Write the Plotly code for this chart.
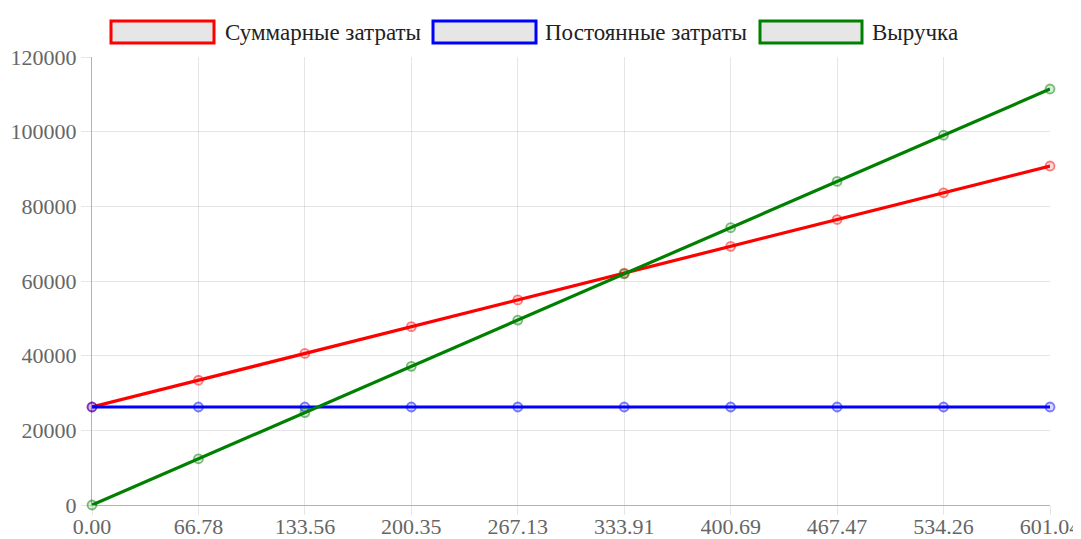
import plotly.graph_objects as go

categories = ["0.00", "66.78", "133.56", "200.35", "267.13", "333.91", "400.69", "467.47", "534.26", "601.04"]
total_costs = [26250, 33420, 40590, 47770, 54940, 62110, 69280, 76460, 83630, 90800]
fixed_costs = [26250, 26250, 26250, 26250, 26250, 26250, 26250, 26250, 26250, 26250]
revenue = [0, 12380, 24760, 37150, 49530, 61910, 74290, 86670, 99050, 111430]

series = [
    ("Суммарные затраты", total_costs, (255, 0, 0)),
    ("Постоянные затраты", fixed_costs, (0, 0, 255)),
    ("Выручка", revenue, (0, 128, 0)),
]

FONT = "Liberation Serif, Times New Roman, serif"
OFF = 8  # page body margin
W, H = 1081 - OFF, 539 - OFF
ML, MR, MT, MB = 92 - OFF, 31, 57 - OFF, 34

fig = go.Figure()
for name, vals, (r, g, b) in series:
    fig.add_trace(go.Scatter(
        x=categories, y=vals, name=name, mode="lines+markers",
        line=dict(color=f"rgb({r},{g},{b})", width=3.2),
        marker=dict(symbol="circle", size=9, color=f"rgba({r},{g},{b},0.15)",
                    line=dict(color=f"rgba({r},{g},{b},0.5)", width=1.8)),
        showlegend=False, cliponaxis=False,
    ))

# custom legend (Chart.js style wide boxes), positions in screen pixels
legend_items = [
    (111, 214, 226, "Суммарные затраты", "rgb(255,0,0)"),
    (433, 536, 546, "Постоянные затраты", "rgb(0,0,255)"),
    (760, 862, 873, "Выручка", "rgb(0,128,0)"),
]
pw = W - ML - MR
ph = H - MT - MB
def px_to_paper_x(px):
    return (px - OFF - ML) / pw
def px_to_paper_y(py):
    return (H - MB - (py - OFF)) / ph

shapes = []
annotations = []
for x0, x1, tx, label, col in legend_items:
    shapes.append(dict(type="rect", xref="paper", yref="paper",
                       x0=px_to_paper_x(x0), x1=px_to_paper_x(x1),
                       y0=px_to_paper_y(43), y1=px_to_paper_y(21),
                       line=dict(color=col, width=3), fillcolor="rgb(230,230,230)"))
    annotations.append(dict(xref="paper", yref="paper", x=px_to_paper_x(tx - 3), y=px_to_paper_y(32),
                            xanchor="left", yanchor="middle", text=label, showarrow=False,
                            font=dict(family=FONT, size=23, color="#222")))

axis_common = dict(
    showgrid=True, gridcolor="rgba(0,0,0,0.1)", gridwidth=1,
    showline=True, linecolor="rgba(0,0,0,0.3)", linewidth=1,
    ticks="outside", tickcolor="rgba(0,0,0,0.1)",
    tickfont=dict(family=FONT, size=22, color="#666"),
    zeroline=False, automargin=False,
)

fig.update_layout(
    width=W, height=H,
    margin=dict(l=ML, r=MR, t=MT, b=MB, autoexpand=False),
    paper_bgcolor="white", plot_bgcolor="white",
    shapes=shapes, annotations=annotations,
    font=dict(family=FONT, size=22, color="#666"),
    xaxis=dict(type="category", range=[0, len(categories) - 1], ticklen=9,
               ticklabelstandoff=-7, **axis_common),
    yaxis=dict(range=[0, 120000], dtick=20000, tick0=0, ticklen=10, tickformat="d", **axis_common),
)

fig.write_html("out.html")
